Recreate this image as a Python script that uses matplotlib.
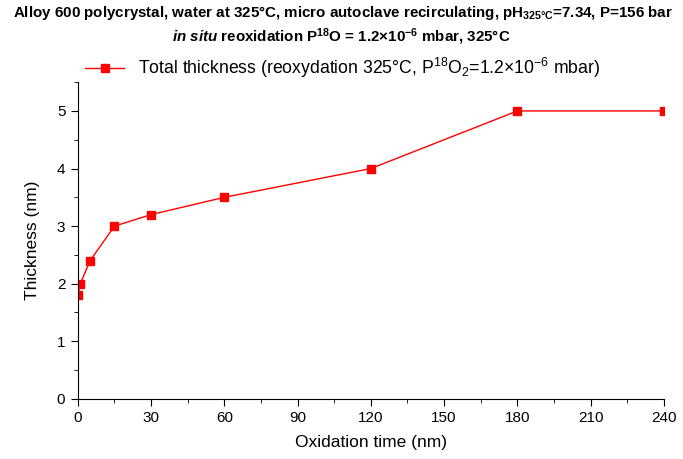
# Thickness of the oxide layer vs oxidation time
import matplotlib.pyplot as plt
from matplotlib.ticker import MultipleLocator

plt.rcParams['font.family'] = 'Liberation Sans'
plt.rcParams['mathtext.fontset'] = 'custom'
plt.rcParams['mathtext.rm'] = 'Liberation Sans'
plt.rcParams['mathtext.it'] = 'Liberation Sans:italic'
plt.rcParams['mathtext.bf'] = 'Liberation Sans:bold'
plt.rcParams['mathtext.bfit'] = 'Liberation Sans:italic:bold'

time = [0, 1, 5, 15, 30, 60, 120, 180, 240]
thickness = [1.8, 2.0, 2.4, 3.0, 3.2, 3.5, 4.0, 5.0, 5.0]

fig = plt.figure(figsize=(6.83, 4.59), dpi=100)
ax = fig.add_axes([0.114, 0.131, 0.858, 0.69])

ax.plot(time, thickness, color='red', lw=1, marker='s', ms=6,
        label=r"Total thickness (reoxydation 325°C, P$^{18}$O$_2$=1.2$\times$10$^{-6}$ mbar)")

ax.set_xlim(0, 240)
ax.set_ylim(0, 5.5)
ax.xaxis.set_major_locator(MultipleLocator(30))
ax.xaxis.set_minor_locator(MultipleLocator(15))
ax.yaxis.set_major_locator(MultipleLocator(1))
ax.yaxis.set_minor_locator(MultipleLocator(0.5))
ax.spines['top'].set_visible(False)
ax.spines['right'].set_visible(False)
ax.tick_params(which='major', length=5, labelsize=11, pad=4)
ax.tick_params(which='minor', length=3)
ax.set_xlabel('Oxidation time (nm)', fontsize=12.5, labelpad=7)
ax.set_ylabel('Thickness (nm)', fontsize=12.5, labelpad=12)

fig.text(0.502, 0.972, r"Alloy 600 polycrystal, water at 325°C, micro autoclave recirculating, "
         r"pH$_{\mathbf{325°C}}$=7.34, P=156 bar", ha='center', va='center',
         fontsize=10.9, fontweight='bold')
fig.text(0.5, 0.92, r"$\mathbfit{in\ situ}$ reoxidation P$^{\mathbf{18}}$O = 1.2×10$^{\mathbf{-6}}$ mbar, 325°C",
         ha='center', va='center', fontsize=10.9, fontweight='bold')

ax.legend(loc='center', bbox_to_anchor=(0.502, 0.852), bbox_transform=fig.transFigure,
          frameon=False, fontsize=12.7, handlelength=2.2, borderpad=0)

plt.savefig('out.png', dpi=100)
